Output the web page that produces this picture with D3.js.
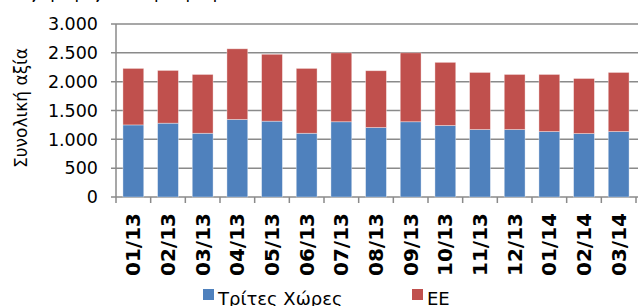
<!DOCTYPE html>
<html>
<head>
<meta charset="utf-8">
<script src="https://d3js.org/d3.v7.min.js"></script>
<style>
  body { margin: 0; background: #fff; }
  svg text { font-family: "DejaVu Sans", Verdana, sans-serif; fill: #000; }
</style>
</head>
<body>
<div id="chart"></div>
<script>
// months on the x axis
const months = ["01/13","02/13","03/13","04/13","05/13","06/13","07/13","08/13",
                "09/13","10/13","11/13","12/13","01/14","02/14","03/14"];
// Τρίτες Χώρες (bottom, blue)
const thirdCountries = [1250,1280,1105,1345,1315,1105,1305,1205,1305,1240,1170,1170,1135,1100,1135];
// ΕΕ (top, red)
const eu = [980,915,1020,1225,1160,1125,1195,985,1195,1095,990,955,990,955,1025];
const yTicks = [0,500,1000,1500,2000,2500,3000];
const seriesNames = ["Τρίτες Χώρες","ΕΕ"];
const colors = ["#4F81BD","#C0504D"];

const width = 638, height = 306;
const plotL = 116, plotR = 636, plotT = 24, plotB = 197;

const svg = d3.select('#chart').append('svg')
    .attr('width', width)
    .attr('height', height);

// clipped title line at the very top (only descenders visible)
svg.append('text')
    .attr('x', 16).attr('y', -2)
    .style('font-size', '17px')
    .text('Εξαγωγές ανά προορισμό (εκατ. €)');

const x = d3.scaleBand().domain(months).range([plotL, plotR]).padding(0);
const y = d3.scaleLinear().domain([0, 3000]).range([plotB, plotT]);

// gridlines
svg.append('g')
  .selectAll('line')
  .data(yTicks)
  .join('line')
    .attr('x1', plotL - 5).attr('x2', plotR + 2)
    .attr('y1', d => y(d)).attr('y2', d => y(d))
    .attr('stroke', '#8a8a8a')
    .attr('stroke-width', 1.5);

// y tick labels
svg.append('g')
  .selectAll('text')
  .data(yTicks)
  .join('text')
    .attr('x', 98)
    .attr('y', d => y(d))
    .attr('dy', '0.36em')
    .attr('text-anchor', 'end')
    .style('font-size', '17.5px')
    .text(d => d3.format(',')(d).replace(/,/g, '.'));

// y axis line
svg.append('line')
    .attr('x1', plotL).attr('x2', plotL)
    .attr('y1', plotT).attr('y2', plotB)
    .attr('stroke', '#8a8a8a').attr('stroke-width', 1.5);

// x ticks at band edges
const edges = months.map(m => x(m)).concat([plotR]);
svg.append('g')
  .selectAll('line')
  .data(edges)
  .join('line')
    .attr('x1', d => d).attr('x2', d => d)
    .attr('y1', plotB).attr('y2', plotB + 6)
    .attr('stroke', '#8a8a8a').attr('stroke-width', 1.5);

// stacked bars
const rows = months.map((m, i) => ({month: m, a: thirdCountries[i], b: eu[i]}));
const stack = d3.stack().keys(['a', 'b'])(rows);
const barW = x.bandwidth() * 0.6;

svg.append('g')
  .selectAll('g')
  .data(stack)
  .join('g')
    .attr('fill', (d, i) => colors[i])
  .selectAll('rect')
  .data(d => d)
  .join('rect')
    .attr('x', d => x(d.data.month) + (x.bandwidth() - barW) / 2)
    .attr('y', d => y(d[1]))
    .attr('width', barW)
    .attr('height', d => y(d[0]) - y(d[1]))
    .attr('stroke', 'rgba(255,255,255,0.45)')
    .attr('stroke-width', 0.8);

// x labels, rotated
svg.append('g')
  .selectAll('text')
  .data(months)
  .join('text')
    .attr('transform', d => `translate(${x(d) + x.bandwidth() / 2 + 7},213) rotate(-90)`)
    .attr('text-anchor', 'end')
    .style('font-size', '20px')
    .style('font-weight', 'bold')
    .text(d => d);

// y axis title
svg.append('text')
    .attr('transform', 'translate(27,108) rotate(-90)')
    .attr('text-anchor', 'middle')
    .style('font-size', '17px')
    .text('Συνολική αξία');

// legend
const legendX = [203, 412];
seriesNames.forEach((name, i) => {
  svg.append('rect')
      .attr('x', legendX[i]).attr('y', 289)
      .attr('width', 11).attr('height', 11)
      .attr('fill', colors[i]);
  svg.append('text')
      .attr('x', legendX[i] + 15).attr('y', 305)
      .style('font-size', '18px')
      .text(name);
});
</script>
</body>
</html>
